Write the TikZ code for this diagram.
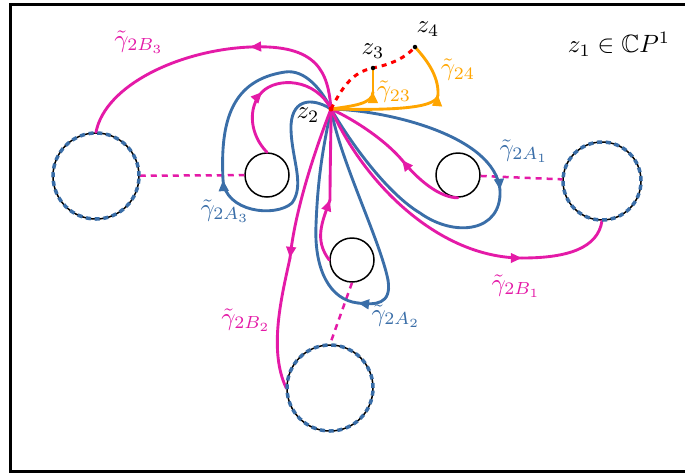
\documentclass[tikz,border=0pt]{standalone}
\usepackage{amssymb}
\usetikzlibrary{arrows.meta,decorations.markings}
\definecolor{magc}{RGB}{228,26,167}
\definecolor{bluec}{RGB}{58,110,168}
\definecolor{orc}{RGB}{255,165,0}
\tikzset{
  curve/.style={line width=1.15pt, line cap=round},
  magcurve/.style={curve, draw=magc},
  bluecurve/.style={curve, draw=bluec},
  orcurve/.style={curve, draw=orc},
  tipend/.style={postaction={decorate, decoration={markings,
      mark=at position 0.999 with {\arrow{Triangle[length=4.4pt,width=3.8pt]}}}}},
  bigc/.style={circle, draw=black, line width=0.6pt, inner sep=0pt, minimum size=#1},
  smallc/.style={circle, draw=black, line width=0.6pt, inner sep=0pt, minimum size=17.6pt},
  bluedash/.style={draw=bluec, line width=1.4pt, dash pattern=on 2pt off 1.5pt},
  cutline/.style={draw=magc, line width=1pt, dash pattern=on 2.4pt off 2pt},
  reddash/.style={draw=red, line width=1.2pt, dash pattern=on 2pt off 2pt},
  maglabel/.style={text=magc},
  bluelabel/.style={text=bluec},
  orlabel/.style={text=orc}
}
\begin{document}
\begin{tikzpicture}[x=0.4pt,y=-0.4pt]
\useasboundingbox (0,0) rectangle (685,475);
\draw[line width=1pt] (10.3,4.5) rectangle (700,471.5);

\coordinate (z2) at (331,109);
\coordinate (z3) at (373,68);
\coordinate (z4) at (415,47);
\node[bigc=34.4pt] (L) at (96,176) {};
\node[bigc=31.2pt] (R) at (602,181) {};
\node[bigc=34.4pt] (B) at (330,388) {};
\node[smallc] (l) at (267,175) {};
\node[smallc] (r) at (458,175) {};
\node[smallc] (b) at (352,260) {};

% cut lines
\draw[cutline] (L) -- (l);
\draw[cutline] (r) -- (R);
\draw[cutline] (b.south) -- (B.north);

% blue loops
\draw[bluecurve] (z2) .. controls (310,96) and (290,100) .. (291,130)
  .. controls (292,160) and (305,185) .. (292,203);
\draw[bluecurve, tipend] (292,203) .. controls (275,218) and (225,212) .. (223,180);
\draw[bluecurve] (223,180) .. controls (220,120) and (232,80) .. (285,72)
  .. controls (305,69) and (322,90) .. (z2);

\draw[bluecurve, tipend] (z2) .. controls (385,110) and (495,135) .. (500,190);
\draw[bluecurve] (500,190) .. controls (502,232) and (455,238) .. (420,213)
  .. controls (390,195) and (355,150) .. (z2);

\draw[bluecurve] (z2) .. controls (340,160) and (380,240) .. (388,280);
\draw[bluecurve, tipend] (388,280) .. controls (392,305) and (375,305) .. (358,303);
\draw[bluecurve] (358,303) .. controls (330,300) and (314,270) .. (316,225)
  .. controls (318,170) and (325,140) .. (z2);

% magenta paths
\draw[magcurve, tipend] (z2) .. controls (328,72) and (318,44) .. (250,47);
\draw[magcurve] (250,47) .. controls (180,50) and (105,85) .. (L.north);

\draw[magcurve, tipend] (l.north) .. controls (250,135) and (247,108) .. (262,92);
\draw[magcurve] (262,92) .. controls (277,77) and (315,78) .. (z2);

\draw[magcurve, tipend] (z2) .. controls (315,150) and (295,210) .. (290,258);
\draw[magcurve] (290,258) .. controls (282,295) and (268,350) .. (B.west);

\draw[magcurve, tipend] (b.west) .. controls (314,240) and (322,222) .. (330,200);
\draw[magcurve] (330,200) .. controls (330,170) and (331,135) .. (z2);

\draw[magcurve, tipend] (z2) .. controls (365,185) and (440,258) .. (522,258);
\draw[magcurve] (522,258) .. controls (568,258) and (598,248) .. (R.south);

\draw[magcurve, tipend] (r.south) .. controls (440,198) and (418,180) .. (402,160);
\draw[magcurve] (402,160) .. controls (385,140) and (355,120) .. (z2);

% orange paths
\draw[orcurve, tipend] (z2) .. controls (352,106) and (373,104) .. (373,92);
\draw[orcurve] (373,92) -- (z3);
\draw[orcurve, tipend] (z2) .. controls (380,110) and (437,110) .. (438,95);
\draw[orcurve] (438,95) .. controls (439,75) and (425,58) .. (z4);

% red dashed
\draw[reddash] (z2) .. controls (342,88) and (352,72) .. (z3)
  .. controls (392,64) and (405,58) .. (z4);

% big circle dashed overlays
\draw[bluedash] (L.center) circle[radius=17.2pt];
\draw[bluedash] (R.center) circle[radius=15.6pt];
\draw[bluedash] (B.center) circle[radius=17.2pt];

% points
\fill[red] (z2) circle[radius=1pt];
\fill (z3) circle[radius=0.9pt];
\fill (z4) circle[radius=0.9pt];

% labels
\node (tz2) at (308,115) {$z_2$};
\node (tz3) at (373,51) {$z_3$};
\node (tz4) at (428,29) {$z_4$};
\node (tz1) at (619,44) {$z_1\in\mathbb{C}P^1$};
\node[maglabel] (gB3) at (139,42) {$\tilde{\gamma}_{2B_3}$};
\node[maglabel] (gB2) at (246,320) {$\tilde{\gamma}_{2B_2}$};
\node[maglabel] (gB1) at (516,286) {$\tilde{\gamma}_{2B_1}$};
\node[bluelabel] (gA3) at (225,211) {$\tilde{\gamma}_{2A_3}$};
\node[bluelabel] (gA1) at (524,151) {$\tilde{\gamma}_{2A_1}$};
\node[bluelabel] (gA2) at (396,316) {$\tilde{\gamma}_{2A_2}$};
\node[orlabel] (g23) at (394,92) {$\tilde{\gamma}_{23}$};
\node[orlabel] (g24) at (458,70) {$\tilde{\gamma}_{24}$};
\end{tikzpicture}
\end{document}
